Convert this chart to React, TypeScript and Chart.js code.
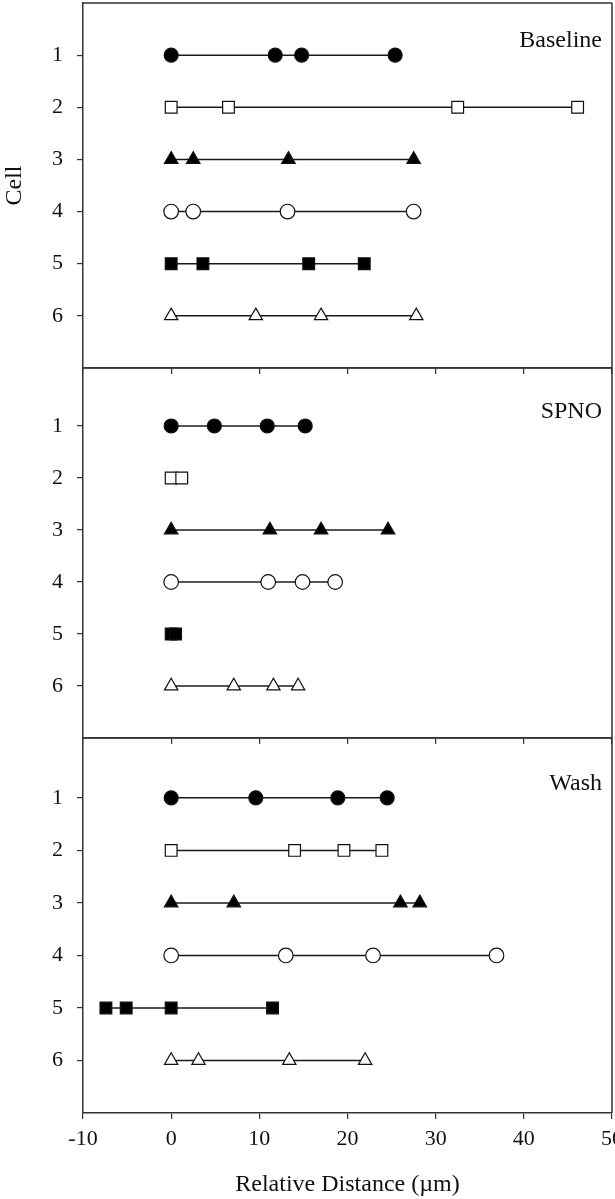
import { useEffect, useRef } from 'react';
import { Chart, registerables } from 'chart.js';

Chart.register(...registerables);

// ---- data ----
const CELLS = [1, 2, 3, 4, 5, 6];
const X_TICKS = [-10, 0, 10, 20, 30, 40, 50];
const PANEL_NAMES = ['Baseline', 'SPNO', 'Wash'];
const X_TITLE = 'Relative Distance (µm)';
const Y_TITLE = 'Cell';

const BASELINE = [
  [0, 11.8, 14.8, 25.4],
  [0, 6.5, 32.5, 46.1],
  [0, 2.5, 13.3, 27.5],
  [0, 2.5, 13.2, 27.5],
  [0, 3.6, 15.6, 21.9],
  [0, 9.6, 17.0, 27.8],
];
const SPNO = [
  [0, 4.9, 10.9, 15.2],
  [0, 1.2],
  [0, 11.2, 17.0, 24.6],
  [0, 11.0, 14.9, 18.6],
  [0, 0.5],
  [0, 7.1, 11.6, 14.4],
];
const WASH = [
  [0, 9.6, 18.9, 24.5],
  [0, 14.0, 19.6, 23.9],
  [0, 7.1, 26.0, 28.2],
  [0, 13.0, 22.9, 36.9],
  [-7.4, -5.1, 0, 11.5],
  [0, 3.1, 13.4, 22.0],
];
const PANEL_DATA = [BASELINE, SPNO, WASH];

// ---- styles ----
const FONT = '"Liberation Serif", "Times New Roman", serif';
const INK = '#111';
const AXIS = '#333';
const MARKERS = [
  { style: 'circle', fill: '#000', r: 7 },
  { style: 'rect', fill: '#fff', r: 8.3 },
  { style: 'triangle', fill: '#000', r: 7.8 },
  { style: 'circle', fill: '#fff', r: 7.3 },
  { style: 'rect', fill: '#000', r: 8.3 },
  { style: 'triangle', fill: '#fff', r: 7.7 },
];
const PANELS = [
  { top: 0, height: 376, padTop: 3, padBottom: 0, axisH: 8, yMin: 0, showX: false, showYTitle: true },
  { top: 360, height: 386, padTop: 8, padBottom: 0, axisH: 8, yMin: -0.115, showX: false, showYTitle: false },
  { top: 730, height: 469, padTop: 8, padBottom: 0, axisH: 86, yMin: -0.14, showX: true, showYTitle: false },
];

const framePlugin = {
  id: 'frame',
  afterDraw(chart: any, _args: any, opts: any) {
    const { ctx, chartArea: a } = chart;
    ctx.save();
    ctx.strokeStyle = AXIS;
    ctx.lineWidth = 1.5;
    ctx.beginPath();
    ctx.moveTo(a.left, a.top);
    ctx.lineTo(a.right, a.top);
    ctx.moveTo(a.right, a.top);
    ctx.lineTo(a.right, a.bottom);
    ctx.stroke();
    const yScale = chart.scales.y;
    ctx.font = `24px ${FONT}`;
    ctx.fillStyle = INK;
    ctx.textAlign = 'right';
    ctx.textBaseline = 'middle';
    ctx.fillText(opts.label, a.right - 10, yScale.getPixelForValue(CELLS[0]) - 14);
    ctx.restore();
  },
};

function Panel({ index }: { index: number }) {
  const ref = useRef<HTMLCanvasElement | null>(null);
  const cfg = PANELS[index];
  useEffect(() => {
    const rows = PANEL_DATA[index];
    const chart = new Chart(ref.current as HTMLCanvasElement, {
      type: 'line',
      data: {
        datasets: rows.map((xs, i) => ({
          label: `Cell ${CELLS[i]}`,
          data: xs.map((x) => ({ x, y: CELLS[i] })),
          showLine: true,
          borderColor: '#1a1a1a',
          borderWidth: 1.5,
          pointStyle: MARKERS[i].style as any,
          pointRadius: MARKERS[i].r,
          pointHoverRadius: MARKERS[i].r,
          pointBackgroundColor: MARKERS[i].fill,
          pointBorderColor: INK,
          pointBorderWidth: 1.2,
          tension: 0,
          fill: false,
          clip: false as any,
        })),
      },
      options: {
        animation: false,
        responsive: false,
        events: [],
        layout: {
          autoPadding: false,
          padding: { top: cfg.padTop, bottom: cfg.padBottom, left: 0, right: 3 },
        },
        plugins: {
          legend: { display: false },
          tooltip: { enabled: false },
          frame: { label: PANEL_NAMES[index] },
        } as any,
        scales: {
          x: {
            type: 'linear',
            min: X_TICKS[0],
            max: X_TICKS[X_TICKS.length - 1],
            afterBuildTicks: (s: any) => {
              s.ticks = X_TICKS.map((v) => ({ value: v }));
            },
            afterFit: (s: any) => {
              s.height = cfg.axisH;
              s.paddingLeft = 0;
              s.paddingRight = 0;
            },
            ticks: {
              display: cfg.showX,
              autoSkip: false,
              maxRotation: 0,
              padding: 7,
              color: INK,
              font: { family: FONT, size: 22 },
            },
            grid: { drawOnChartArea: false, drawTicks: true, tickLength: 6, color: AXIS, lineWidth: 1.2 },
            border: { display: true, color: AXIS, width: 1.5 },
            title: {
              display: cfg.showX,
              text: X_TITLE,
              color: INK,
              padding: 0,
              font: { family: FONT, size: 24 },
            },
          },
          y: {
            type: 'linear',
            reverse: true,
            min: cfg.yMin,
            max: 7,
            afterBuildTicks: (s: any) => {
              s.ticks = CELLS.map((v) => ({ value: v }));
            },
            afterFit: (s: any) => {
              s.width = 83;
              s.paddingTop = 0;
              s.paddingBottom = 0;
            },
            ticks: {
              padding: 14,
              color: INK,
              font: { family: FONT, size: 22 },
            },
            grid: { drawOnChartArea: false, drawTicks: true, tickLength: 6, color: AXIS, lineWidth: 1.2 },
            border: { display: true, color: AXIS, width: 1.5 },
            title: {
              display: cfg.showYTitle,
              text: Y_TITLE,
              color: INK,
              padding: 0,
              font: { family: FONT, size: 24 },
            },
          },
        },
      } as any,
      plugins: [framePlugin],
    });
    return () => chart.destroy();
  }, [index]);
  return (
    <div style={{ position: 'absolute', left: 0, top: cfg.top, width: 615, height: cfg.height }}>
      <canvas ref={ref} width={615} height={cfg.height} style={{ display: 'block' }} />
    </div>
  );
}

export default function App() {
  return (
    <div style={{ position: 'absolute', left: 0, top: 0, width: 615, height: 1199, background: '#fff' }}>
      {PANELS.map((_, i) => (
        <Panel key={i} index={i} />
      ))}
    </div>
  );
}
